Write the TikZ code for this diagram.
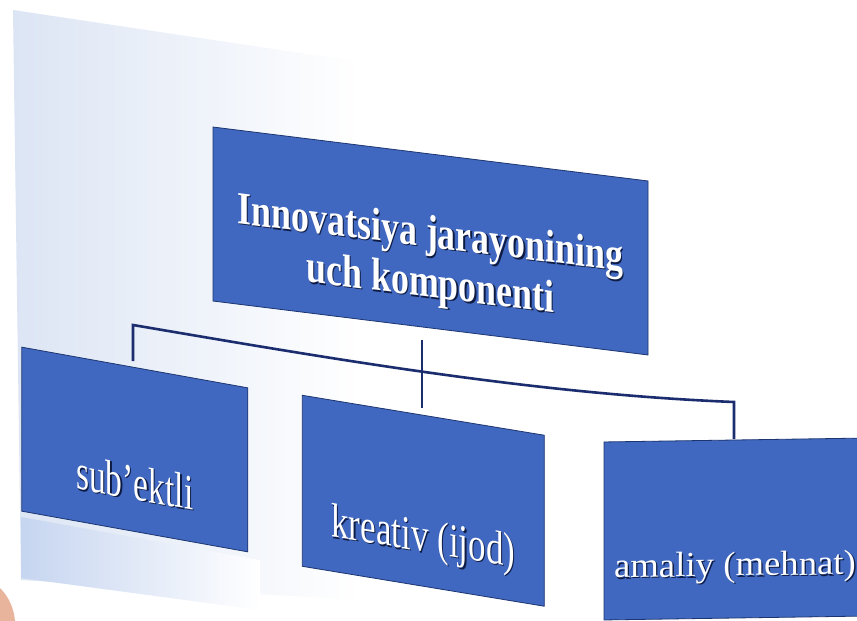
\documentclass[tikz,border=0pt]{standalone}
\usepackage{fontspec}
\setmainfont{Liberation Serif}
\newfontfamily\titlef[FakeStretch=0.78]{Liberation Serif}
\newfontfamily\subf[FakeStretch=0.67]{Liberation Serif}
\newfontfamily\kref[FakeStretch=0.73]{Liberation Serif}
\newfontfamily\amaf[FakeStretch=1.05]{Liberation Serif}
\definecolor{boxblue}{HTML}{4068C0}
\definecolor{boxedge}{HTML}{1D3570}
\definecolor{connc}{HTML}{1B2D6E}
\definecolor{shadowc}{HTML}{0E1C44}
\definecolor{pageblue}{HTML}{DCE5F4}
\definecolor{bandblue}{HTML}{C6D5F0}
\definecolor{thumbc}{HTML}{E9B49C}
\newcommand\shtxt[1]{\leavevmode\rlap{\kern1.3pt\raisebox{-1.3pt}{\color{shadowc}#1}}#1}
\begin{document}
\begin{tikzpicture}[x=1pt,y=-1pt,
  boxstyle/.style={draw=boxedge, line width=0.8pt, fill=boxblue, text=white,
    inner sep=0pt, rectangle},
  conn/.style={draw=connc, line width=2.6pt}]
\useasboundingbox (0,0) rectangle (857,621);
\clip (0,0) rectangle (857,621);
\fill[white] (0,0) rectangle (857,621);
% photographed page background
\shade[left color=pageblue, right color=white]
  (13,10) -- (360,62) -- (360,600) -- (21,580) -- cycle;
\shade[left color=bandblue, right color=white]
  (21,517) -- (260,560) -- (260,610) -- (21,578) -- cycle;
\fill[thumbc] (0,588) .. controls (10,598) and (14,610) .. (15,621) -- (0,621) -- cycle;

% boxes
\node[boxstyle, minimum width=435pt, minimum height=174pt, yslant=-0.124]
  (top) at (430.5,241)
  {\raisebox{-27.5pt}[0pt][0pt]{\titlef\bfseries\fontsize{46}{50}\selectfont
   \begin{tabular}{@{}c@{}}\shtxt{Innovatsiya jarayonining}\\\shtxt{uch komponenti}\end{tabular}}};
\node[boxstyle, minimum width=226pt, minimum height=164pt, yslant=-0.18]
  (sub) at (134.75,449.5)
  {\raisebox{-50pt}[0pt][0pt]{\subf\fontsize{50}{55}\selectfont\shtxt{sub’ektli}}};
\node[boxstyle, minimum width=242pt, minimum height=171pt, yslant=-0.165]
  (kre) at (423.25,500.75)
  {\raisebox{-51pt}[0pt][0pt]{\kref\fontsize{48}{53}\selectfont\shtxt{kreativ (ijod)}}};
\node[boxstyle, minimum width=262pt, minimum height=178pt, yslant=0.015]
  (ama) at (735,529)
  {\raisebox{-47pt}[0pt][0pt]{\amaf\fontsize{35}{40}\selectfont\shtxt{amaliy (mehnat)}}};

% connector geometry
\coordinate (bl) at (133,325);
\coordinate (br) at (734,402);
\coordinate (c1) at (333,359);
\coordinate (c2) at (534,394);
\coordinate (dl) at (133,361);
\coordinate (dr) at (734,439);
\coordinate (jt) at (422,340);
\coordinate (jb) at (422,408);

\draw[conn] (dl) -- (bl) .. controls (c1) and (c2) .. (br) -- (dr);
\draw[conn, line width=2.2pt] (jt) -- (jb);
\end{tikzpicture}
\end{document}
